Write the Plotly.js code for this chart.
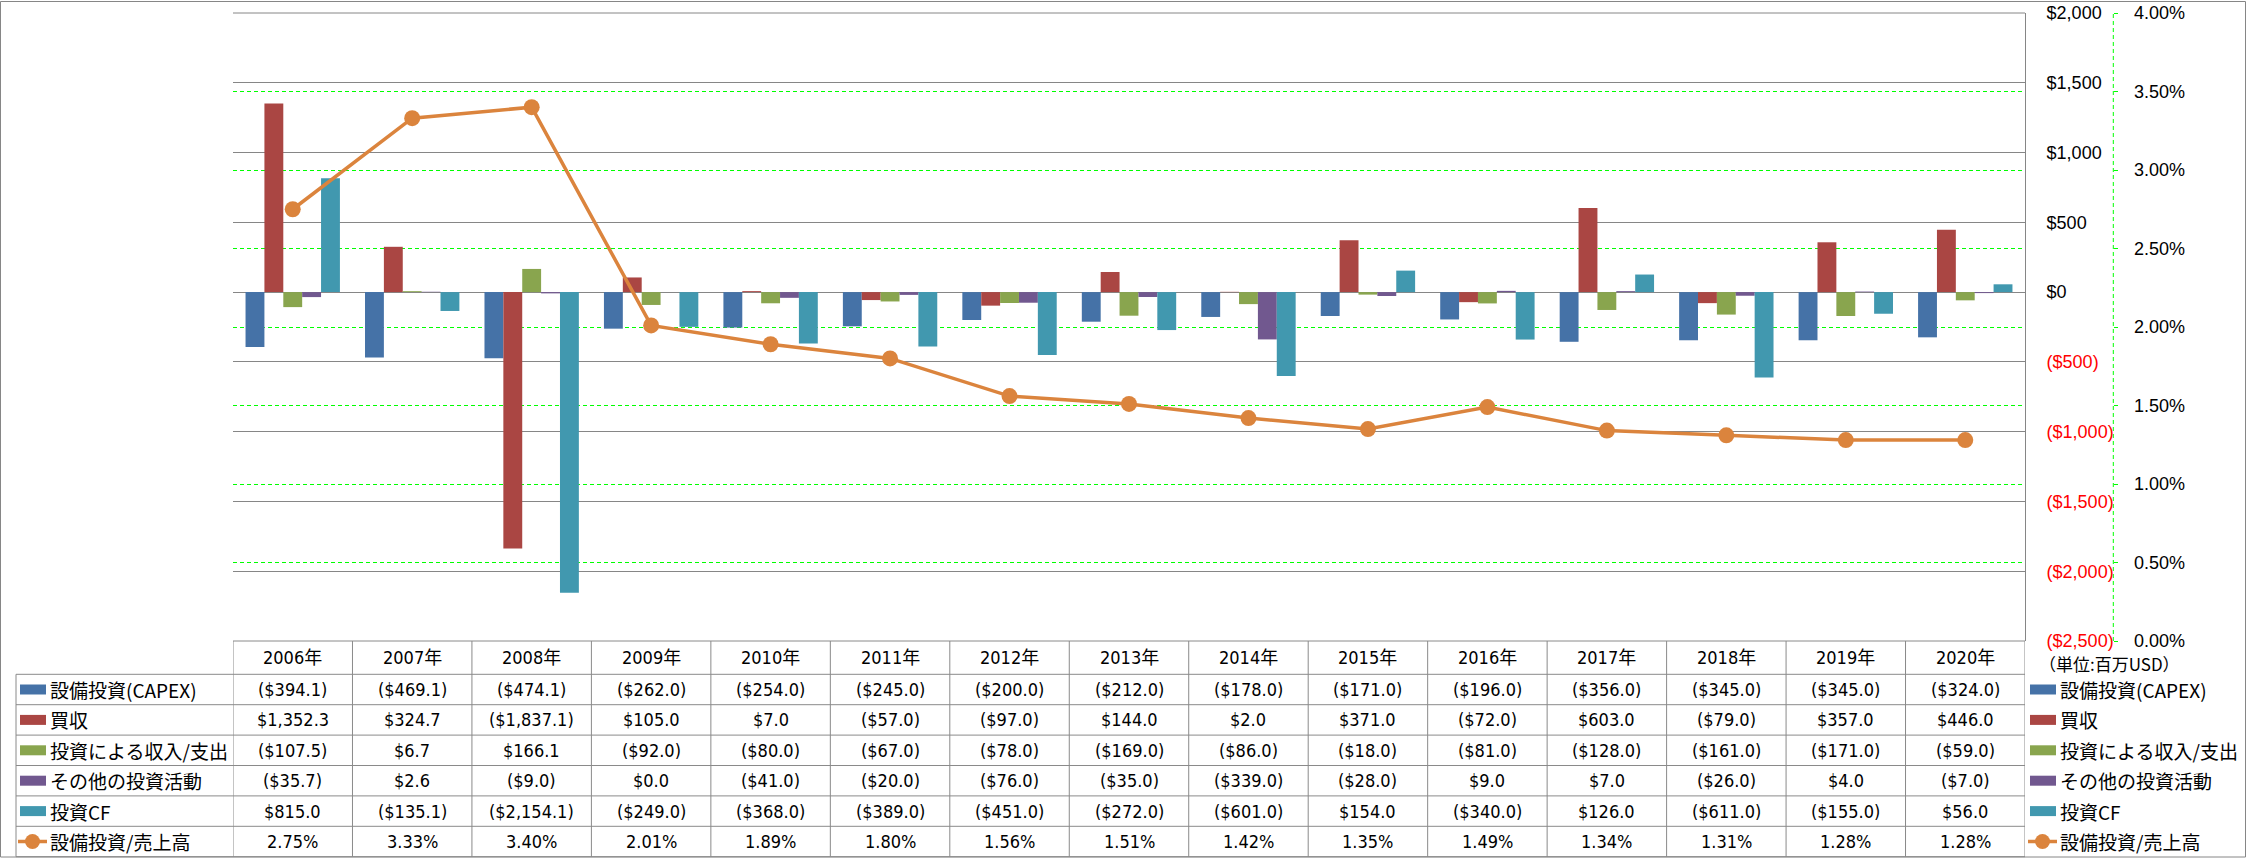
<!DOCTYPE html>
<html>
<head>
<meta charset="utf-8">
<script src="https://cdn.plot.ly/plotly-3.0.1.min.js"></script>
<style>
html,body{margin:0;padding:0;background:#ffffff;}
#chart{width:2246px;height:858px;}
</style>
</head>
<body>
<div id="chart"></div>
<script>
// ---------------- data ----------------
const years = ['2006年','2007年','2008年','2009年','2010年','2011年','2012年','2013年','2014年','2015年','2016年','2017年','2018年','2019年','2020年'];
const seriesNames = ['設備投資(CAPEX)','買収','投資による収入/支出','その他の投資活動','投資CF','設備投資/売上高'];
const capex        = [-394.1,-469.1,-474.1,-262.0,-254.0,-245.0,-200.0,-212.0,-178.0,-171.0,-196.0,-356.0,-345.0,-345.0,-324.0];
const acquisitions = [1352.3,324.7,-1837.1,105.0,7.0,-57.0,-97.0,144.0,2.0,371.0,-72.0,603.0,-79.0,357.0,446.0];
const investIncome = [-107.5,6.7,166.1,-92.0,-80.0,-67.0,-78.0,-169.0,-86.0,-18.0,-81.0,-128.0,-161.0,-171.0,-59.0];
const otherInvest  = [-35.7,2.6,-9.0,0.0,-41.0,-20.0,-76.0,-35.0,-339.0,-28.0,9.0,7.0,-26.0,4.0,-7.0];
const investCF     = [815.0,-135.1,-2154.1,-249.0,-368.0,-389.0,-451.0,-272.0,-601.0,154.0,-340.0,126.0,-611.0,-155.0,56.0];
const capexRatio   = [2.75,3.33,3.40,2.01,1.89,1.80,1.56,1.51,1.42,1.35,1.49,1.34,1.31,1.28,1.28];
const leftTicks    = [-2500,-2000,-1500,-1000,-500,0,500,1000,1500,2000];
const unitLabel    = '（単位:百万USD）';

// ---------------- styling ----------------
const colors = ['#4572A7','#AA4643','#89A54E','#71588F','#4198AF','#DB843D'];
const W = 2246, H = 858;
const plotTop = 13, plotBot = 641, plotLeft = 233, plotRight = 2025;
const y2AxisX = 2113.3;
const headerBottom = 674.3, rowH = 30.4, tableLeft = 16;
const gridGray = '#868686', tableGray = '#8a8a8a', lime = '#00FF00';
const numFont = "'Liberation Sans Narrow','DejaVu Sans Condensed','Noto Sans CJK JP',sans-serif";
const axisFont = "'Liberation Sans',Arial,sans-serif";
const jpFont = "'Noto Sans CJK JP','Noto Sans',sans-serif";

const px = p => p / W;                                   // pixel x -> paper x
const py = p => (plotBot - p) / (plotBot - plotTop);      // pixel y -> paper y
const rowTop = r => headerBottom + r * rowH;
const rowMid = r => rowTop(r) + rowH / 2;

function money(v) {
  const s = Math.abs(v).toLocaleString('en-US', {minimumFractionDigits: 1, maximumFractionDigits: 1});
  return v < 0 ? '($' + s + ')' : '$' + s;
}
function axisMoney(v) {
  const s = Math.abs(v).toLocaleString('en-US');
  return v < 0 ? '<span style="color:#FF0000">($' + s + ')</span>' : '$' + s;
}

const barSeries = [capex, acquisitions, investIncome, otherInvest, investCF];

// ---------------- traces ----------------
const traces = barSeries.map((vals, k) => ({
  type: 'bar', name: seriesNames[k], x: years, y: vals,
  marker: {color: colors[k], line: {width: 0}},
  xaxis: 'x', yaxis: 'y', hoverinfo: 'skip'
}));
traces.push({
  type: 'scatter', mode: 'lines+markers', name: seriesNames[5],
  x: years, y: capexRatio, xaxis: 'x', yaxis: 'y2',
  line: {color: colors[5], width: 3.5},
  marker: {color: colors[5], size: 16},
  cliponaxis: false, hoverinfo: 'skip'
});

// ---------------- table (annotations + shapes) ----------------
const annotations = [];
const shapes = [];
const cellFont = {family: numFont, size: 18, color: '#000000'};
const labelFont = {family: jpFont, size: 19, color: '#000000'};

years.forEach(y => annotations.push({
  x: y, xref: 'x', y: py((plotBot + headerBottom) / 2), yref: 'paper',
  text: y, showarrow: false, xanchor: 'center', yanchor: 'middle', font: cellFont, borderpad: 0
}));
barSeries.forEach((vals, r) => vals.forEach((v, i) => annotations.push({
  x: years[i], xref: 'x', y: py(rowMid(r)), yref: 'paper',
  text: money(v), showarrow: false, xanchor: 'center', yanchor: 'middle', font: cellFont, borderpad: 0
})));
capexRatio.forEach((v, i) => annotations.push({
  x: years[i], xref: 'x', y: py(rowMid(5)), yref: 'paper',
  text: v.toFixed(2) + '%', showarrow: false, xanchor: 'center', yanchor: 'middle', font: cellFont, borderpad: 0
}));

// row labels (left) and legend (right)
[[20, 49], [2030, 2059]].forEach(([sx, tx]) => {
  seriesNames.forEach((name, r) => {
    const cy = rowMid(r);
    annotations.push({
      x: px(tx), xref: 'paper', y: py(cy), yref: 'paper', text: name, showarrow: false,
      xanchor: 'left', yanchor: 'middle', font: labelFont, borderpad: 0
    });
    if (r < 5) {
      shapes.push({type: 'rect', xref: 'paper', yref: 'paper',
        x0: px(sx), x1: px(sx + 26), y0: py(cy + 5), y1: py(cy - 5),
        fillcolor: colors[r], line: {width: 0}});
    } else {
      shapes.push({type: 'line', xref: 'paper', yref: 'paper',
        x0: px(sx - 2), x1: px(sx + 27), y0: py(cy), y1: py(cy),
        line: {color: colors[5], width: 3.5}});
      shapes.push({type: 'circle', xref: 'paper', yref: 'paper',
        xsizemode: 'pixel', ysizemode: 'pixel', xanchor: px(sx + 12.5), yanchor: py(cy),
        x0: -7.5, x1: 7.5, y0: -7.5, y1: 7.5, fillcolor: colors[5], line: {width: 0}});
    }
  });
});

annotations.push({
  x: px(2038), xref: 'paper', y: py(663), yref: 'paper', text: unitLabel, showarrow: false,
  xanchor: 'left', yanchor: 'middle', font: {family: jpFont, size: 17, color: '#000000'}, borderpad: 0
});

// table grid lines
const tl = {color: tableGray, width: 1};
shapes.push({type: 'line', xref: 'x', yref: 'paper', x0: -0.5, x1: years.length - 0.5, y0: py(plotBot), y1: py(plotBot), line: tl});
for (let r = 0; r <= 6; r++) {
  shapes.push({type: 'line', xref: 'paper', yref: 'paper', x0: px(tableLeft), x1: px(plotRight),
    y0: py(rowTop(r)), y1: py(rowTop(r)), line: tl});
}
shapes.push({type: 'line', xref: 'paper', yref: 'paper', x0: px(tableLeft), x1: px(tableLeft),
  y0: py(headerBottom), y1: py(rowTop(6)), line: tl});
for (let i = 0; i <= years.length; i++) {
  shapes.push({type: 'line', xref: 'x', yref: 'paper', x0: i - 0.5, x1: i - 0.5,
    y0: py(plotBot), y1: py(rowTop(6)), line: tl});
}
// top gridline of plot
shapes.push({type: 'line', xref: 'x', yref: 'paper', x0: -0.5, x1: years.length - 0.5, y0: 1, y1: 1, line: {color: gridGray, width: 1}});
// secondary axis dashed line
shapes.push({type: 'line', xref: 'paper', yref: 'paper', x0: px(y2AxisX), x1: px(y2AxisX), y0: 0, y1: 1,
  line: {color: lime, width: 1, dash: '4px,3px'}});
// outer border
shapes.push({type: 'rect', xref: 'paper', yref: 'paper', x0: px(0.5), x1: px(W - 0.5), y0: py(H - 1), y1: py(1.5),
  line: {color: gridGray, width: 1}, fillcolor: 'rgba(0,0,0,0)'});

// ---------------- layout ----------------
const layout = {
  width: W, height: H,
  margin: {l: 0, r: 0, t: plotTop, b: H - plotBot, pad: 0},
  paper_bgcolor: '#ffffff', plot_bgcolor: '#ffffff',
  showlegend: false,
  barmode: 'group', bargap: 0.21, bargroupgap: 0,
  font: {family: axisFont, color: '#000000'},
  xaxis: {
    type: 'category', domain: [px(plotLeft), px(plotRight)], range: [-0.5, years.length - 0.5],
    showticklabels: false, showgrid: false, zeroline: false, showline: false, ticks: '', fixedrange: true
  },
  yaxis: {
    range: [-2500, 2000], tickmode: 'array', tickvals: leftTicks, ticktext: leftTicks.map(axisMoney),
    side: 'right', showline: true, linecolor: gridGray, linewidth: 1,
    showgrid: true, gridcolor: gridGray, gridwidth: 1, zeroline: false, ticks: '',
    tickfont: {family: axisFont, size: 18, color: '#000000'}, ticklabelstandoff: 17, fixedrange: true
  },
  yaxis2: {
    overlaying: 'y', side: 'right', anchor: 'free', position: px(y2AxisX),
    range: [0, 4], tickmode: 'linear', tick0: 0, dtick: 0.5, tickformat: '.2f', ticksuffix: '%',
    showgrid: true, gridcolor: lime, gridwidth: 1, griddash: '4px,3px', zeroline: false, showline: false,
    ticks: 'outside', ticklen: 4, tickcolor: lime, tickwidth: 1,
    tickfont: {family: axisFont, size: 18, color: '#000000'}, ticklabelstandoff: 12, fixedrange: true
  },
  annotations: annotations,
  shapes: shapes
};

Plotly.newPlot('chart', traces, layout, {staticPlot: true, displayModeBar: false});
</script>
</body>
</html>
